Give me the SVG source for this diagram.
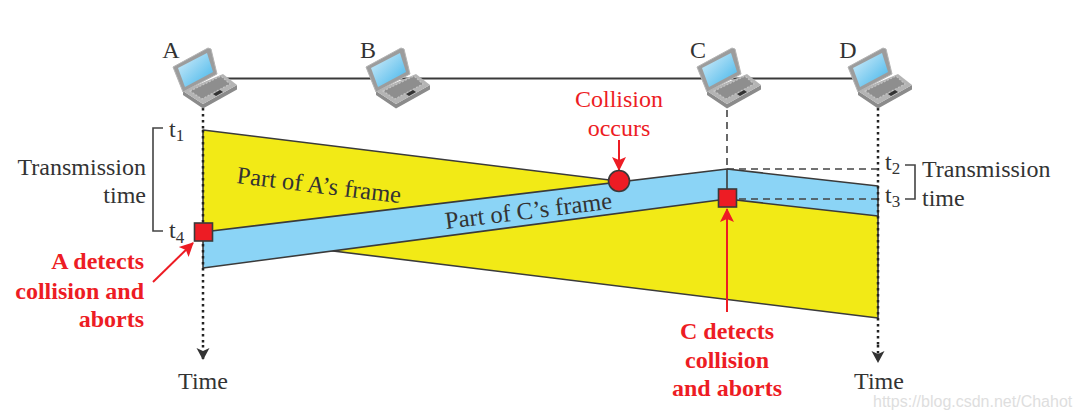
<svg xmlns="http://www.w3.org/2000/svg" width="1080" height="419" viewBox="0 0 1080 419">
<style>
text{font-family:"Liberation Serif","Times New Roman",serif;font-size:24px;fill:#333}
.red{fill:#ed1c24}
.b{font-weight:bold}
.sub{font-size:17px}
.lbl{font-size:24.500px}
.bk{fill:none;stroke:#444;stroke-width:1.600}
.dot{fill:none;stroke:#222;stroke-width:2.500;stroke-dasharray:2.500 3.500}
.dash{fill:none;stroke:#444;stroke-width:1.600;stroke-dasharray:7 5}
.edge{stroke:#3a3a3a;stroke-width:1.600;stroke-linejoin:round}
.ra{stroke:#ed1c24;stroke-width:2;fill:none}
.mk{fill:#ed1c24;stroke:#3a3a3a;stroke-width:1.600}
</style>
<defs>
<linearGradient id="scr" x1="0" y1="0" x2="1" y2="1"><stop offset="0" stop-color="#d8effa"/><stop offset="1" stop-color="#3fb4ea"/></linearGradient>
<symbol id="laptop" overflow="visible" viewBox="0 0 66 62" width="66" height="62">
<path d="M10 47 L30 60.500 L64 41.500 L64 37 L30 56 L10 43 Z" fill="#8b8b8b"/>
<path d="M10 43 L50 26 L64 37 L30 56 Z" fill="#b4b4b4"/>
<path d="M17 43 L48 28 L57 36 L29 51 Z" fill="#8e8e8e" stroke="#c4c4c4" stroke-width="1.200" stroke-dasharray="2 1.500"/>
<path d="M40 46 L47 42 L50 44 L43 48 Z" fill="#333"/>
<path d="M0 19 L35 0 L38 1 L44 26 L10 44 Z" fill="#9c9c9c" stroke="#b4b4b4" stroke-width="1"/>
<path d="M5 20 L34 5 L40 24 L12 39 Z" fill="url(#scr)"/>
</symbol>
<marker id="ah" markerWidth="16" markerHeight="16" refX="13" refY="8" orient="auto" markerUnits="userSpaceOnUse"><path d="M0 1 L14 8 L0 15 L3 8 Z" fill="#ed1c24"/></marker>
<marker id="tk" markerWidth="14" markerHeight="14" refX="11" refY="7" orient="auto" markerUnits="userSpaceOnUse"><path d="M0 0.500 L12 7 L0 13.500 L3 7 Z" fill="#333"/></marker>
</defs>
<g id="connectors">
<path d="M225 78.500 H855" fill="none" stroke="#3a3a3a" stroke-width="2.200"/>
<path class="dot" d="M203 108 V130"/>
<path class="dash" d="M727 110 V169"/>
<path class="dot" d="M878 108 V186"/>
</g>
<g id="frames">
<polygon id="frame-a" class="edge" points="203,130 878,213 878,318 203,235" fill="#f2ea16"/>
<polygon id="frame-c" class="edge" points="203,232 727,169 878,186 878,216 727,199 203,268" fill="#8bd4f6"/>
<path class="dash" d="M727 169 H878 M727 199 H878"/>
<path d="M727 169 V190" stroke="#3a3a3a" stroke-width="1.600"/>
<path class="dot" d="M203 130 V345"/>
<path class="dot" d="M878 186 V345"/>
<path d="M203 345 V359" class="dot" marker-end="url(#tk)"/>
<path d="M878 345 V362" class="dot" marker-end="url(#tk)"/>
<text class="lbl" transform="translate(236 183) rotate(7)">Part of A’s frame</text>
<text class="lbl" transform="translate(446 229) rotate(-7)">Part of C’s frame</text>
</g>
<g id="node-a"><use href="#laptop" x="173" y="48"/><text x="171" y="58" text-anchor="middle">A</text></g>
<g id="node-b"><use href="#laptop" x="366" y="48"/><text x="368" y="58" text-anchor="middle">B</text></g>
<g id="node-c"><use href="#laptop" x="697" y="48"/><text x="698" y="58" text-anchor="middle">C</text></g>
<g id="node-d"><use href="#laptop" x="848" y="48"/><text x="848" y="58" text-anchor="middle">D</text></g>
<g id="left-bracket">
<path class="bk" d="M163 128 H153 V231 H163"/>
<text x="169" y="137">t<tspan class="sub" dy="4">1</tspan></text>
<text x="169" y="238">t<tspan class="sub" dy="5">4</tspan></text>
<text x="146" y="175" text-anchor="end">Transmission</text>
<text x="146" y="203" text-anchor="end">time</text>
</g>
<g id="right-bracket">
<path class="bk" d="M905 165 H915 V199 H905"/>
<text x="885" y="170">t<tspan class="sub" dy="4">2</tspan></text>
<text x="885" y="203">t<tspan class="sub" dy="4">3</tspan></text>
<text x="922" y="177">Transmission</text>
<text x="922" y="206">time</text>
</g>
<g id="collision">
<text class="red" x="619" y="107" text-anchor="middle">Collision</text>
<text class="red" x="619" y="136" text-anchor="middle">occurs</text>
<path class="ra" d="M619 140 V170" marker-end="url(#ah)"/>
<circle class="mk" cx="619" cy="181" r="10.500"/>
</g>
<g id="detect-a">
<rect class="mk" x="194.500" y="223" width="18" height="18"/>
<path class="ra" d="M153 282 L193 243" marker-end="url(#ah)"/>
<text class="red b" x="144" y="269" text-anchor="end">A detects</text>
<text class="red b" x="144" y="299" text-anchor="end">collision and</text>
<text class="red b" x="144" y="327" text-anchor="end">aborts</text>
</g>
<g id="detect-c">
<rect class="mk" x="718.500" y="189" width="18" height="18"/>
<path class="ra" d="M727 312 V209" marker-end="url(#ah)"/>
<text class="red b" x="727" y="339" text-anchor="middle">C detects</text>
<text class="red b" x="727" y="368" text-anchor="middle">collision</text>
<text class="red b" x="727" y="396" text-anchor="middle">and aborts</text>
</g>
<g id="time-labels">
<text x="203" y="389" text-anchor="middle">Time</text>
<text x="879" y="389" text-anchor="middle">Time</text>
</g>
<text x="873" y="407" style="font-family:'Liberation Sans',sans-serif;font-size:16px;fill:#dedede">https://blog.csdn.net/Chahot</text>
</svg>
